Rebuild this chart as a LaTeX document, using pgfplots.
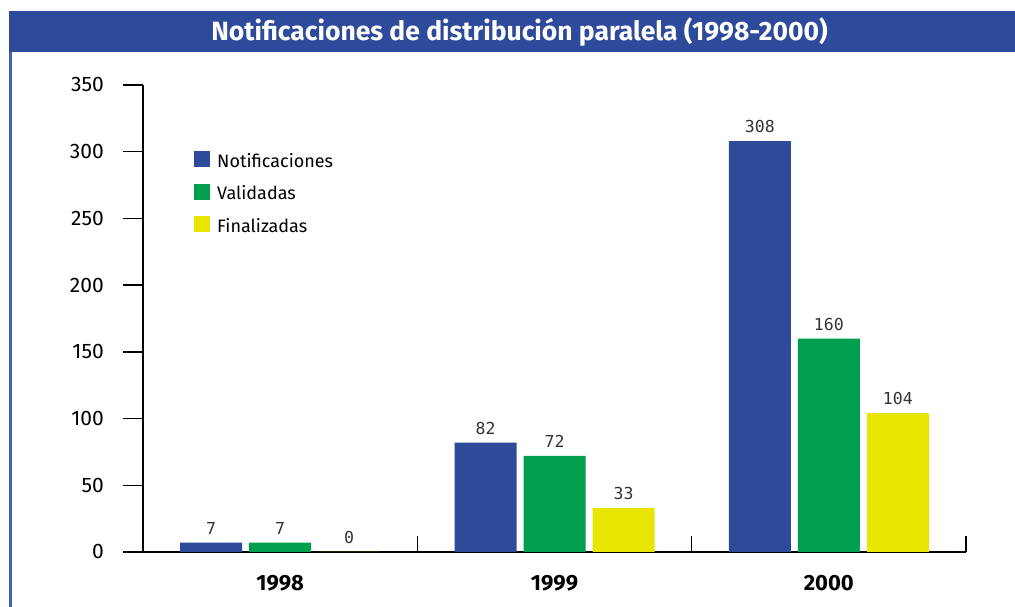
\documentclass[border=0pt]{standalone}
\usepackage{fontspec}
\setmainfont{Fira Sans}
\newfontfamily\valfont{DejaVu Sans Mono}
\usepackage{pgfplots}
\pgfplotsset{compat=1.18}
\definecolor{cblue}{HTML}{2E4A9A}
\definecolor{cgreen}{HTML}{009F4D}
\definecolor{cyellow}{HTML}{E8E500}
\definecolor{cline}{HTML}{4060B0}
\definecolor{cval}{HTML}{333333}
\begin{document}
\begin{tikzpicture}
\path[use as bounding box] (0pt,0pt) rectangle (1015pt,607pt);
\fill[white] (0pt,0pt) rectangle (1015pt,607pt);
\fill[cblue] (9pt,555pt) rectangle (1015pt,596pt);
\fill[cline] (9pt,0pt) rectangle (11.5pt,555pt);
\node[text=white, font=\bfseries\fontsize{26.5}{30}\selectfont] at (519.5pt,575pt) {Notificaciones de distribución paralela (1998-2000)};
\begin{axis}[
  at={(143pt,55pt)}, anchor=south west,
  width=823pt, height=467pt, scale only axis,
  xmin=-0.5, xmax=2.5, ymin=0, ymax=350,
  axis x line*=bottom, axis y line*=left,
  axis line style={line width=1.5pt, black},
  every tick/.style={line width=1.5pt, black},
  tick align=outside, major tick length=20pt,
  /pgf/number format/assume math mode=true,
  ytick={0,50,...,350},
  xtick={0,1,2}, xticklabels={1998,1999,2000},
  x tick style={draw=none},
  extra x ticks={0.5,1.5,2.5}, extra x tick labels={},
  extra x tick style={x tick style={draw=black, line width=1.5pt}, tick align=inside, major tick length=16pt},
  yticklabel style={font=\fontsize{21}{24}\selectfont, inner sep=0pt, xshift=-19pt},
  xticklabel style={font=\bfseries\fontsize{22}{24}\selectfont, inner sep=0pt, yshift=-3pt},
  ybar=7pt, bar width=62pt,
  nodes near coords,
  every node near coord/.append style={font=\valfont\fontsize{16.5}{18}\selectfont, text=cval, inner sep=0pt, yshift=8pt},
  legend style={draw=none, fill=none, inner sep=0pt, at={(0.062,0.8587)}, anchor=north west,
    font=\fontsize{18}{20}\selectfont, row sep=12.5pt, column sep=7pt,
    nodes={inner sep=0pt, text height=12pt, text depth=4pt}},
  legend cell align=left,
  legend image code/.code={\fill[#1] (0pt,-4pt) rectangle (16pt,12pt);},
]
\addplot[fill=cblue, draw=none] coordinates {(0,7) (1,82) (2,308)};
\addplot[fill=cgreen, draw=none] coordinates {(0,7) (1,72) (2,160)};
\addplot[fill=cyellow, draw=none] coordinates {(0,0) (1,33) (2,104)};
\legend{Notificaciones,Validadas,Finalizadas}
\end{axis}
\end{tikzpicture}
\end{document}
